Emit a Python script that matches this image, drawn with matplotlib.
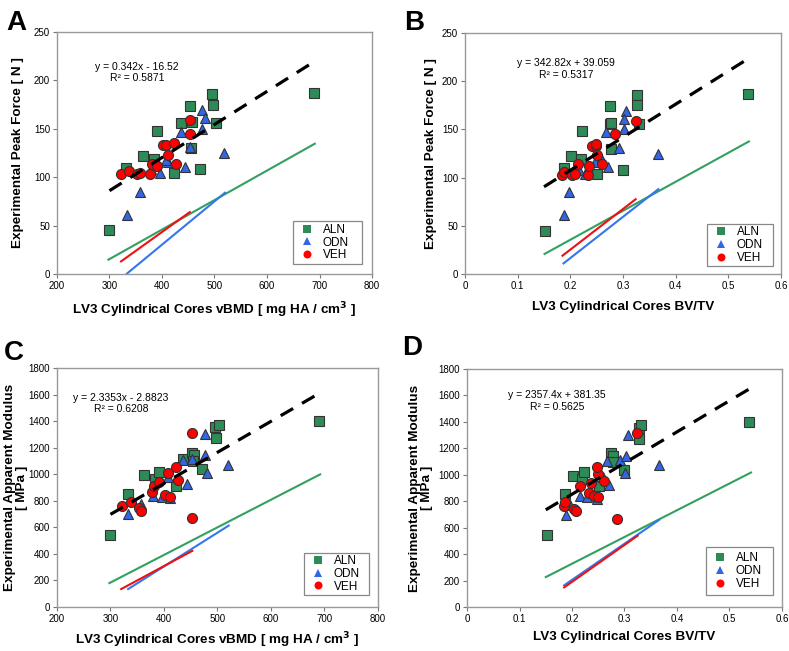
import matplotlib
matplotlib.use("Agg")
import matplotlib.pyplot as plt
from matplotlib.patches import Rectangle
import numpy as np

plt.rcParams['font.family'] = ['Liberation Sans', 'DejaVu Sans']

# ---------------- data ----------------
groups = ["ALN", "ODN", "VEH"]

aln_vbmd = [300, 332, 363, 384, 390, 422, 436, 453, 457, 455, 472, 496, 498, 503, 689]
aln_bvtv = [0.152, 0.187, 0.201, 0.220, 0.223, 0.251, 0.275, 0.275, 0.278, 0.278, 0.299, 0.327, 0.327, 0.331, 0.538]
aln_force = [45, 109.5, 122, 119, 148, 104, 156, 174, 157, 130, 108, 186, 175, 156, 187]
aln_mod = [543, 851, 994, 966, 1019, 913, 1111, 1161, 1144, 1100, 1039, 1352, 1274, 1374, 1399]

odn_vbmd = [333, 358, 380, 396, 412, 408, 436, 443, 453, 476, 477, 481, 519]
odn_bvtv = [0.188, 0.197, 0.216, 0.228, 0.247, 0.260, 0.267, 0.271, 0.292, 0.302, 0.306, 0.301, 0.366]
odn_force = [61, 85, 108, 104, 116, 118, 147, 111, 131, 150, 169, 161, 125]
odn_mod = [698, 773, 838, 830, 818, 981, 1105, 923, 1111, 1144, 1301, 1011, 1071]

veh_vbmd = [322, 338, 353, 358, 377, 381, 390, 402, 407, 412, 422, 427, 453, 453]
veh_bvtv = [0.185, 0.187, 0.204, 0.208, 0.233, 0.215, 0.236, 0.241, 0.249, 0.250, 0.248, 0.261, 0.285, 0.324]
veh_force = [103, 106, 103, 104, 103, 114, 112, 133, 133, 123, 135, 114, 145, 159]
veh_mod = [761, 793, 743, 726, 863, 914, 941, 843, 1006, 831, 1056, 954, 668, 1314]

# pooled regression (trend-line equations shown on the chart)
trend_A = (0.342, -16.52, 0.5871)
trend_B = (342.82, 39.059, 0.5317)
trend_C = (2.3353, -2.8823, 0.6208)
trend_D = (2357.4, 381.35, 0.5625)
trend_x_vbmd = [300, 690]
trend_x_bvtv = [0.15, 0.538]

# per-group model lines: (x0, x1), (y0, y1)
lines_A = {"ALN": ([298, 691], [14.8, 134.6]),
           "ODN": ([333, 520], [0.3, 84]),
           "VEH": ([322, 453], [13, 64])}
lines_B = {"ALN": ([0.151, 0.539], [20.8, 137.5]),
           "ODN": ([0.187, 0.367], [11, 88]),
           "VEH": ([0.185, 0.324], [19, 77.6])}
lines_C = {"ALN": ([298, 692], [180, 999]),
           "ODN": ([333, 521], [135, 613]),
           "VEH": ([320, 453], [135, 423])}
lines_D = {"ALN": ([0.150, 0.541], [226, 1017]),
           "ODN": ([0.185, 0.366], [164, 659]),
           "VEH": ([0.185, 0.325], [148, 539])}

# ---------------- style ----------------
fill = {"ALN": "#2E8B57", "ODN": "#3366E6", "VEH": "#FF0000"}
linec = {"ALN": "#33A060", "ODN": "#3377EE", "VEH": "#EE1111"}
marker = {"ALN": "s", "ODN": "^", "VEH": "o"}
msize = {"ALN": 6.6, "ODN": 7.2, "VEH": 7.2}

fig = plt.figure(figsize=(7.89, 6.51), dpi=100)

def setup(ax, xlim, xticks, xtl, ylim, yticks, xlabel, ylabel, ylabel_x, xlpad=7):
    ax.set_xlim(*xlim)
    ax.set_ylim(*ylim)
    ax.set_xticks(xticks)
    ax.set_xticklabels(xtl)
    ax.set_yticks(yticks)
    for s in ax.spines.values():
        s.set_color("#999999")
        s.set_linewidth(1.0)
    ax.tick_params(axis="both", direction="out", length=3, width=0.8,
                   color="#777777", labelsize=7, pad=2)
    ax.set_xlabel(xlabel, fontsize=9.7, fontweight="bold", labelpad=xlpad)
    ax.set_ylabel(ylabel, fontsize=9.7, fontweight="bold", linespacing=1.0)
    ax.yaxis.set_label_coords(ylabel_x, 0.5)

def draw(ax, xs, ys, lines, trend, tx, eqpos, eqtxt, legbox):
    for g in groups:
        lx, ly = lines[g]
        ax.plot(lx, ly, color=linec[g], lw=1.5, zorder=2)
    m, b, r2 = trend
    txs = np.array(tx)
    ax.plot(txs, m * txs + b, color="black", lw=2.3, dashes=(4.5, 3.2), zorder=4)
    for g in groups:
        ax.plot(xs[g], ys[g], linestyle="none", marker=marker[g], ms=msize[g],
                mfc=fill[g], mec="#333333", mew=0.8, zorder=3, label=g)
    ax.text(eqpos[0], eqpos[1], eqtxt, transform=ax.transAxes, ha="center",
            va="top", fontsize=7.5, linespacing=1.15)
    x0, y0, x1, y1 = legbox
    ax.add_patch(Rectangle((x0, y0), x1 - x0, y1 - y0, transform=ax.transAxes,
                           facecolor="white", edgecolor="#888888", lw=0.9,
                           zorder=5))
    leg = ax.legend(loc="center left", fontsize=8.5, frameon=False,
                    borderpad=0.0, labelspacing=0.05,
                    handletextpad=0.85, handlelength=1.0, markerscale=0.8,
                    borderaxespad=0.0,
                    bbox_to_anchor=(x0 + 0.025, (y0 + y1) / 2))
    leg.set_zorder(6)
    for h in leg.legend_handles:
        h.set_markeredgewidth(0.0)

xv = {"ALN": aln_vbmd, "ODN": odn_vbmd, "VEH": veh_vbmd}
xb = {"ALN": aln_bvtv, "ODN": odn_bvtv, "VEH": veh_bvtv}
yf = {"ALN": aln_force, "ODN": odn_force, "VEH": veh_force}
ym = {"ALN": aln_mod, "ODN": odn_mod, "VEH": veh_mod}

vb_ticks = [200, 300, 400, 500, 600, 700, 800]
bv_ticks = [0, 0.1, 0.2, 0.3, 0.4, 0.5, 0.6]
bv_tl = ["0", "0.1", "0.2", "0.3", "0.4", "0.5", "0.6"]

xlab_v = "LV3 Cylindrical Cores vBMD [ mg HA / cm$^\\mathbf{3}$ ]"
xlab_b = "LV3 Cylindrical Cores BV/TV"

# A
axA = fig.add_axes([0.0722, 0.5791, 0.3993, 0.3717])
setup(axA, (200, 800), vb_ticks, [str(t) for t in vb_ticks], (0, 250),
      [0, 50, 100, 150, 200, 250], xlab_v, "Experimental Peak Force [ N ]", -0.105)
draw(axA, xv, yf, lines_A, trend_A, trend_x_vbmd, (0.255, 0.875),
     "y = 0.342x - 16.52\nR² = 0.5871", (0.749, 0.041, 0.968, 0.219))

# B
axB = fig.add_axes([0.5894, 0.5791, 0.4005, 0.3702])
setup(axB, (0, 0.6), bv_ticks, bv_tl, (0, 250),
      [0, 50, 100, 150, 200, 250], xlab_b, "Experimental Peak Force [ N ]", -0.09)
draw(axB, xb, yf, lines_B, trend_B, trend_x_bvtv, (0.32, 0.895),
     "y = 342.82x + 39.059\nR² = 0.5317", (0.766, 0.033, 0.975, 0.207))

# C
axC = fig.add_axes([0.0722, 0.0676, 0.4068, 0.3671])
setup(axC, (200, 800), vb_ticks, [str(t) for t in vb_ticks], (0, 1800),
      list(range(0, 1801, 200)), xlab_v,
      "Experimental Apparent Modulus\n[ MPa ]", -0.09, xlpad=5)
draw(axC, xv, ym, lines_C, trend_C, trend_x_vbmd, (0.2, 0.895),
     "y = 2.3353x - 2.8823\nR² = 0.6208", (0.769, 0.05, 0.971, 0.226))

# D
axD = fig.add_axes([0.5919, 0.0676, 0.3992, 0.3656])
setup(axD, (0, 0.6), bv_ticks, bv_tl, (0, 1800),
      list(range(0, 1801, 200)), xlab_b,
      "Experimental Apparent Modulus\n[ MPa ]", -0.108, xlpad=5)
draw(axD, xb, ym, lines_D, trend_D, trend_x_bvtv, (0.285, 0.91),
     "y = 2357.4x + 381.35\nR² = 0.5625", (0.759, 0.05, 0.971, 0.252))

# panel letters
for lbl, x, y in [("A", 0.008, 0.985), ("B", 0.512, 0.985),
                  ("C", 0.005, 0.478), ("D", 0.51, 0.485)]:
    fig.text(x, y, lbl, fontsize=20, fontweight="bold", va="top", ha="left")

fig.savefig("out.png", dpi=100)
